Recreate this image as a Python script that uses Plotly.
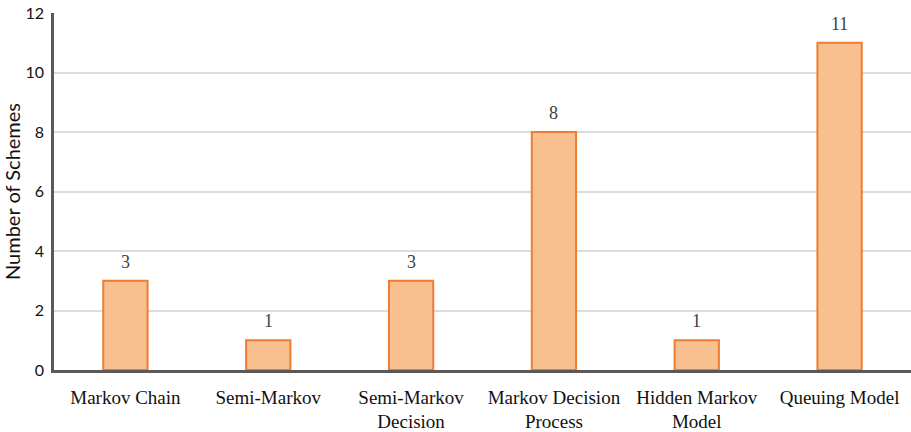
import plotly.graph_objects as go

categories = ["Markov Chain", "Semi-Markov", "Semi-Markov<br>Decision",
              "Markov Decision<br>Process", "Hidden Markov<br>Model", "Queuing Model"]
scheme_counts = [3, 1, 3, 8, 1, 11]
y_ticks = [0, 2, 4, 6, 8, 10, 12]

fig = go.Figure(go.Bar(
    x=categories,
    y=scheme_counts,
    width=0.31,
    marker=dict(color="#F8C08F", line=dict(color="#ED7D31", width=2)),
))

# value labels sitting a little above each bar
for cat, val in zip(categories, scheme_counts):
    fig.add_annotation(
        x=cat, y=val, text=str(val), showarrow=False,
        yanchor="bottom", yshift=7,
        font=dict(family="Liberation Serif", size=18, color="#404040"),
    )

fig.update_layout(
    width=911, height=432,
    margin=dict(l=54, r=0, t=13, b=62),
    plot_bgcolor="white", paper_bgcolor="white",
    showlegend=False,
)
fig.update_xaxes(
    showline=True, linecolor="#595959", linewidth=2.5,
    ticks="", showgrid=False, ticklabelstandoff=8,
    tickfont=dict(family="Liberation Serif", size=19, color="#111111"),
)
fig.update_yaxes(
    range=[0, 12], tickvals=y_ticks,
    showline=True, linecolor="#595959", linewidth=2.5,
    showgrid=True, gridcolor="#dcdcdc", gridwidth=1.5,
    zeroline=False, ticklabelstandoff=4,
    tickfont=dict(family="Lato", size=16, color="#111111"),
    title=dict(text="Number of Schemes", standoff=12,
               font=dict(family="Lato", size=20, color="#111111")),
)

fig.write_html("out.html")
